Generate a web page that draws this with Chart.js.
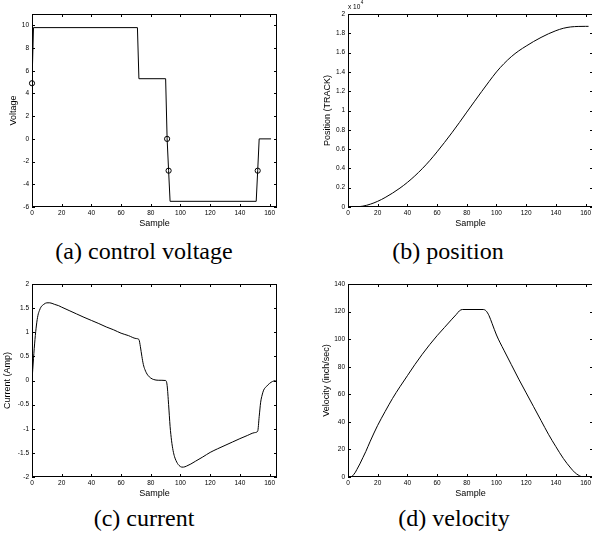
<!DOCTYPE html>
<html><head><meta charset="utf-8">
<script src="https://cdn.jsdelivr.net/npm/chart.js@4.4.1/dist/chart.umd.min.js"></script>
<style>
html,body{margin:0;padding:0;background:#fff;}
body{width:592px;height:535px;position:relative;overflow:hidden;}
canvas{position:absolute;}
.cap{position:absolute;font-family:"Liberation Serif","Times New Roman",serif;font-size:24px;line-height:24px;white-space:nowrap;transform:translateX(-50%);color:#000;}
</style></head><body>
<canvas id="ca" width="296" height="232" style="left:0;top:0;width:296px;height:232px"></canvas>
<canvas id="cb" width="310" height="232" style="left:296px;top:0;width:310px;height:232px"></canvas>
<canvas id="cc" width="296" height="232" style="left:0;top:270px;width:296px;height:232px"></canvas>
<canvas id="cd" width="310" height="232" style="left:296px;top:270px;width:310px;height:232px"></canvas>
<div class="cap" style="left:144px;top:239px">(a) control voltage</div>
<div class="cap" style="left:448px;top:239px">(b) position</div>
<div class="cap" style="left:144px;top:506px">(c) current</div>
<div class="cap" style="left:454px;top:506px">(d) velocity</div>
<script>
// ---- data ----
const xTicks = [0,20,40,60,80,100,120,140,160];

const voltageSample = [0,1,71,72,90,91,92,93,151,152,153,161];
const voltageValue  = [4.9,9.8,9.8,5.3,5.3,0,-2.8,-5.5,-5.5,-2.8,0,0];
const voltageMarkSample = [0,91,92,152];
const voltageMarkValue  = [4.9,0,-2.8,-2.8];
const voltageTicks = [-6,-4,-2,0,2,4,6,8,10];

const positionSample = [0,5,10,15,20,25,30,35,40,45,50,55,60,65,70,75,80,85,90,95,100,105,110,115,120,125,130,135,140,145,150,155,160,162];
const positionValue  = [0,10,90,290,590,980,1440,1960,2550,3220,3970,4800,5720,6690,7700,8750,9830,10900,11960,13000,14000,14850,15580,16180,16680,17150,17570,17950,18270,18520,18660,18710,18720,18720];
const positionTicks = [0,2000,4000,6000,8000,10000,12000,14000,16000,18000,20000];
const positionTickLabels = ['0','0.2','0.4','0.6','0.8','1','1.2','1.4','1.6','1.8','2'];

const currentSample = [0,1,2,3,4,5,6,8,10,12,15,18,20,25,30,35,40,45,50,55,60,65,70,72,73,74,75,76,77,78,80,82,85,90,91,92,93,94,95,96,97,98,99,100,101,102,104,107,110,115,120,125,130,135,140,145,150,152,153,154,155,156,158,160,162,164];
const currentValue  = [0,0.45,0.85,1.15,1.35,1.45,1.52,1.58,1.61,1.61,1.58,1.55,1.52,1.45,1.38,1.31,1.245,1.18,1.11,1.05,0.98,0.93,0.87,0.85,0.7,0.5,0.33,0.23,0.16,0.11,0.05,0.02,0.005,0,-0.1,-0.5,-0.95,-1.25,-1.45,-1.58,-1.66,-1.72,-1.76,-1.785,-1.795,-1.795,-1.775,-1.73,-1.675,-1.585,-1.49,-1.415,-1.345,-1.275,-1.205,-1.14,-1.08,-1.05,-0.75,-0.45,-0.3,-0.2,-0.12,-0.06,-0.02,0];
const currentTicks = [-2,-1.5,-1,-0.5,0,0.5,1,1.5,2];
const currentTickLabels = ['-2','-1.5','-1','-0.5','0','0.5','1','1.5','2'];

const velocitySample = [0,2,3,4,5,6,8,10,12,15,20,25,30,35,40,45,50,55,60,65,70,73,75,77,91,93,95,97,100,105,110,115,120,125,130,135,140,145,150,153,155,157,158,163];
const velocityValue  = [0,0.2,0.8,2,3.5,5.5,9.5,14,18.5,26,37.5,47.5,57,65.5,73.5,81.5,89,96,102.5,108.5,114.5,118,120.5,121.5,121.5,120.5,117,111.5,103,92,81.5,71,61,51,41,31,22,13.5,6.5,3,1.5,0.3,0,0];
const velocityTicks = [0,20,40,60,80,100,120,140];

// ---- helpers ----
const SANS = '"Liberation Sans", Arial, Helvetica, sans-serif';
function pts(xs, ys){ return xs.map((x,i)=>({x:x, y:ys[i]})); }

const boxPlugin = {
  id:'box',
  afterDatasetsDraw(chart, args, opts){
    const {ctx, chartArea, scales} = chart;
    const {left, top, right, bottom} = chartArea;
    const xs = scales.x, ys = scales.y;
    const L = 3;
    ctx.save();
    ctx.strokeStyle = '#000';
    ctx.lineWidth = 1;
    ctx.beginPath();
    xs.ticks.forEach(t=>{
      const px = Math.round(xs.getPixelForValue(t.value)) + 0.5;
      ctx.moveTo(px, bottom); ctx.lineTo(px, bottom - L);
      ctx.moveTo(px, top); ctx.lineTo(px, top + L);
    });
    ys.ticks.forEach(t=>{
      const py = Math.round(ys.getPixelForValue(t.value)) + 0.5;
      ctx.moveTo(left, py); ctx.lineTo(left + L, py);
      ctx.moveTo(right, py); ctx.lineTo(right - L, py);
    });
    ctx.stroke();
    ctx.strokeRect(left + 0.5, top + 0.5, right - left - 1, bottom - top - 1);
    if (opts && opts.exponent) {
      ctx.fillStyle = '#000';
      ctx.textBaseline = 'middle';
      ctx.textAlign = 'left';
      ctx.font = '6.5px ' + SANS;
      ctx.fillText('x 10', left, 7);
      const w = ctx.measureText('x 10').width;
      ctx.font = '4.5px ' + SANS;
      ctx.fillText(opts.exponent, left + w + 0.5, 3);
    }
    ctx.restore();
  }
};

function makeChart(id, cfg){
  const canvas = document.getElementById(id);
  return new Chart(canvas, {
    type:'line',
    data:{datasets: cfg.datasets},
    plugins:[boxPlugin],
    options:{
      responsive:false, animation:false, devicePixelRatio:1,
      layout:{padding:{left:0, top:14, right:cfg.padRight, bottom:0}},
      plugins:{legend:{display:false}, tooltip:{enabled:false}, box:{exponent:cfg.exponent||null}},
      elements:{point:{radius:0}, line:{borderWidth:1, borderColor:'#000'}},
      scales:{
        x:{
          type:'linear', min:0, max:165,
          afterBuildTicks:s=>{ s.ticks = xTicks.map(v=>({value:v})); },
          afterFit:s=>{ s.height = 25; },
          grid:{display:false, drawTicks:false}, border:{display:false},
          ticks:{padding:2.4, color:'#000', font:{family:SANS, size:6.5}, maxRotation:0, autoSkip:false},
          title:{display:true, text:'Sample', color:'#000', font:{family:SANS, size:9}, padding:{top:0, bottom:3}}
        },
        y:{
          type:'linear', min:cfg.yMin, max:cfg.yMax,
          afterBuildTicks:s=>{ s.ticks = cfg.yTicks.map(v=>({value:v})); },
          afterFit:s=>{ s.width = cfg.yWidth; },
          grid:{display:false, drawTicks:false}, border:{display:false},
          ticks:{padding:3, color:'#000', font:{family:SANS, size:6.5}, autoSkip:false,
                 callback:(v,i)=> cfg.yLabels ? cfg.yLabels[i] : String(v)},
          title:{display:true, text:cfg.yTitle, color:'#000', font:{family:SANS, size:9}, padding:{top:cfg.yTitlePad, bottom:0}}
        }
      }
    }
  });
}

makeChart('ca', {
  datasets:[
    {data:pts(voltageSample, voltageValue), borderColor:'#000', borderWidth:1, tension:0, pointRadius:0},
    {data:pts(voltageMarkSample, voltageMarkValue), showLine:false, clip:false, pointRadius:2.6, pointStyle:'circle',
     pointBorderColor:'#000', pointBackgroundColor:'rgba(0,0,0,0)', pointBorderWidth:1}
  ],
  padRight:19, yMin:-6, yMax:11, yTicks:voltageTicks, yTitle:'Voltage', yTitlePad:8, yWidth:32
});
makeChart('cb', {
  datasets:[{data:pts(positionSample, positionValue), borderColor:'#000', borderWidth:1, cubicInterpolationMode:'monotone'}],
  padRight:13, yMin:0, yMax:20000, yTicks:positionTicks, yLabels:positionTickLabels, yTitle:'Position (TRACK)', yTitlePad:26, yWidth:52, exponent:'4'
});
makeChart('cc', {
  datasets:[{data:pts(currentSample, currentValue), borderColor:'#000', borderWidth:1, cubicInterpolationMode:'monotone'}],
  padRight:19, yMin:-2, yMax:2, yTicks:currentTicks, yLabels:currentTickLabels, yTitle:'Current (Amp)', yTitlePad:2, yWidth:32
});
makeChart('cd', {
  datasets:[{data:pts(velocitySample, velocityValue), borderColor:'#000', borderWidth:1, cubicInterpolationMode:'monotone'}],
  padRight:13, yMin:0, yMax:140, yTicks:velocityTicks, yTitle:'Velocity (inch/sec)', yTitlePad:25, yWidth:52
});
</script>
</body></html>
